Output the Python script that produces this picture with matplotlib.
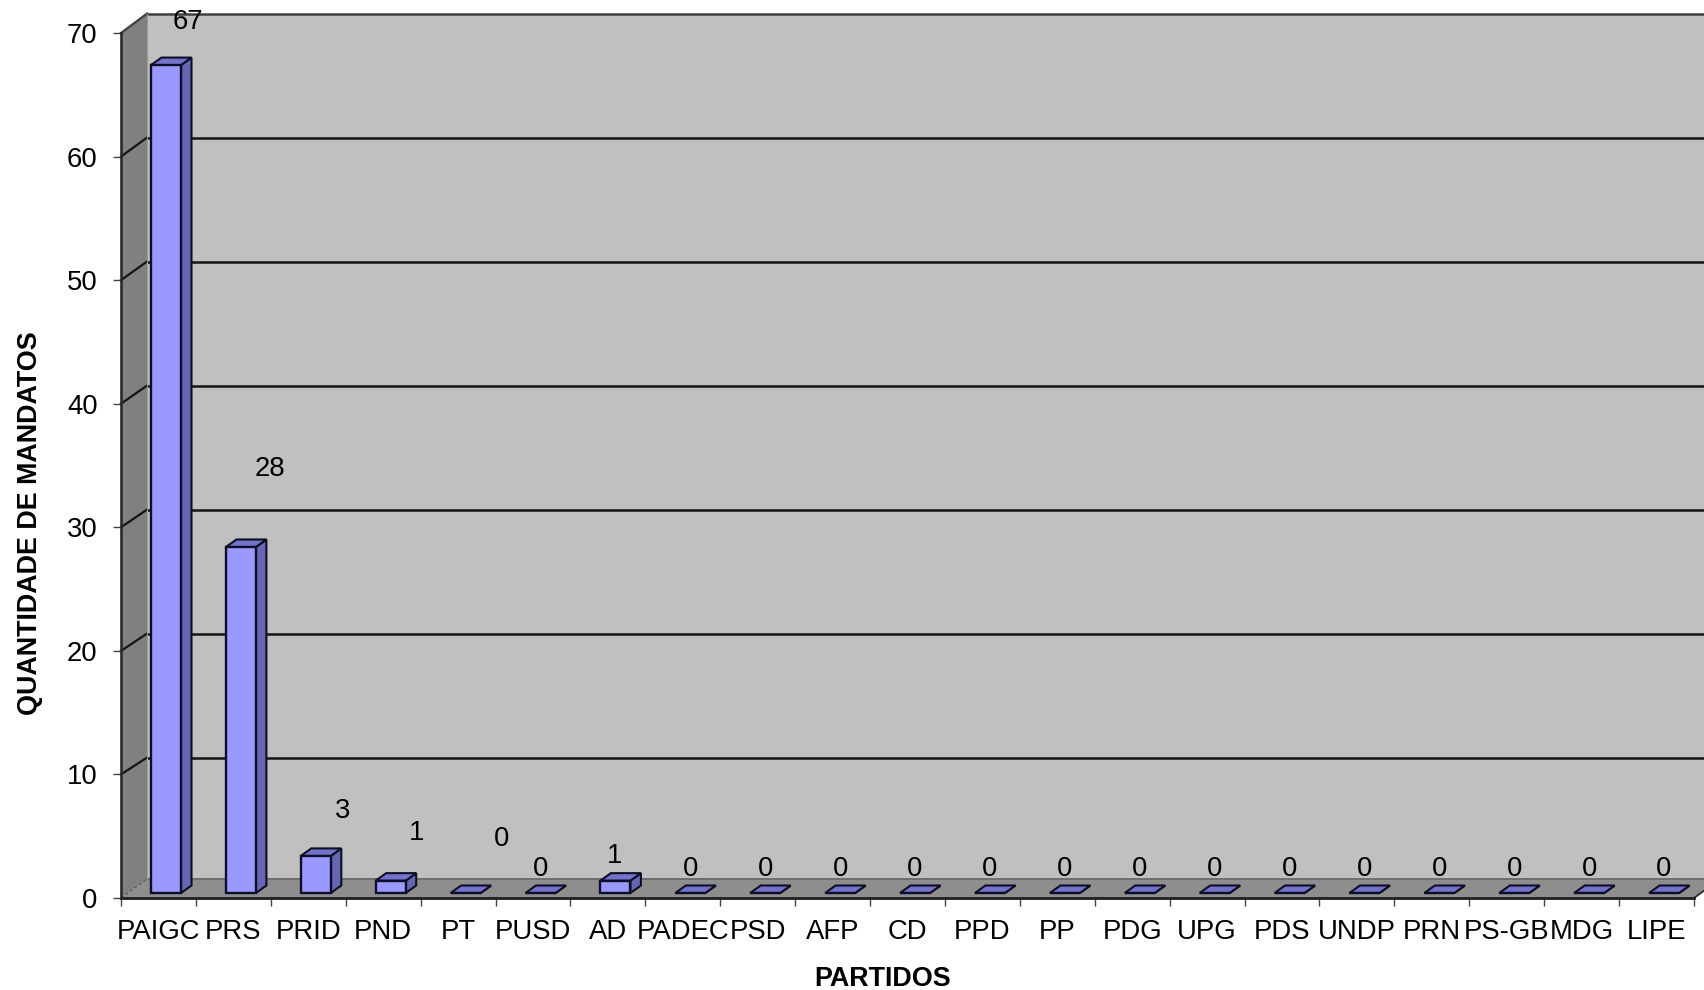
import matplotlib
matplotlib.use("Agg")
import matplotlib.pyplot as plt
from matplotlib.patches import Polygon

plt.rcParams['font.family'] = ['Liberation Sans', 'DejaVu Sans']

partidos = ["PAIGC", "PRS", "PRID", "PND", "PT", "PUSD", "AD", "PADEC", "PSD", "AFP", "CD",
            "PPD", "PP", "PDG", "UPG", "PDS", "UNDP", "PRN", "PS-GB", "MDG", "LIPE"]
mandatos = [67, 28, 3, 1, 0, 0, 1, 0, 0, 0, 0, 0, 0, 0, 0, 0, 0, 0, 0, 0, 0]
y_ticks = [0, 10, 20, 30, 40, 50, 60, 70]

# label offsets from the bar's category centre / value, in pixels (the source chart's are uneven)
label_dx = [29, 37, 34, 33, 43, 7.5, 7] + [7.5] * 14
label_dy = [48.5, 83.5, 49.5, 53, 59, 29, 30] + [29] * 14

W, H = 1704, 990
fig = plt.figure(figsize=(W / 100, H / 100), dpi=100, facecolor='white')
ax = fig.add_axes([121 / W, (H - 898) / H, (1694 - 121) / W, 865 / H])
n = len(partidos)
ymax = 70
ax.set_xlim(0, n)
ax.set_ylim(0, ymax)
for s in ax.spines.values():
    s.set_visible(False)
ax.patch.set_visible(False)

# scale: one category = 74.9 px, one unit = 12.357 px
cat_px = 1573 / n
unit_px = 865 / ymax
wall_dx, wall_dy = 26 / cat_px, 16.4 / unit_px   # depth offset of the gridlines' zero
floor_dy = 19 / unit_px                          # depth of the floor itself
back_scale = 124 / 123.57                        # back wall is drawn marginally taller
bar_w = 30 / cat_px
bar_gap = 30 / cat_px
bar_base = 5 / unit_px
bar_dx, bar_dy = 10.5 / cat_px, 7.5 / unit_px


def back_y(v):
    return wall_dy + v * back_scale


# walls and floor
ax.add_patch(Polygon([(wall_dx, floor_dy), (n + wall_dx, floor_dy), (n + wall_dx, back_y(ymax)), (wall_dx, back_y(ymax))],
                     fc='#C0C0C0', ec='none', clip_on=False, zorder=1))
ax.add_patch(Polygon([(0, 0), (wall_dx, floor_dy), (wall_dx, back_y(ymax)), (0, ymax)],
                     fc='#808080', ec='none', clip_on=False, zorder=1))
ax.add_patch(Polygon([(0, 0), (n, 0), (n + wall_dx, floor_dy), (wall_dx, floor_dy)],
                     fc='#8E8E8E', ec='none', clip_on=False, zorder=1))

# gridlines
for t in y_ticks:
    if t == 0:
        continue
    c = '#141414' if t < ymax else '#404040'
    ax.plot([wall_dx, n + wall_dx], [back_y(t)] * 2, color=c, lw=1.8, clip_on=False, zorder=2, solid_capstyle='butt')
    ax.plot([0, wall_dx], [t, back_y(t)], color=c, lw=1.6, clip_on=False, zorder=2)
ax.plot([wall_dx, n + wall_dx], [floor_dy] * 2, color='#6E6E6E', lw=1.4, clip_on=False, zorder=2)
ax.plot([0, wall_dx], [0, floor_dy], color='#555555', lw=0.8, ls=(0, (3, 2)), clip_on=False, zorder=2)
ax.plot([wall_dx, wall_dx], [floor_dy, back_y(ymax)], color='#9A9A9A', lw=0.8, clip_on=False, zorder=2)
ax.plot([n, n + wall_dx], [0, floor_dy], color='#333333', lw=1.4, clip_on=False, zorder=2)
# front edges
ax.plot([0, n], [0, 0], color='#1E1E1E', lw=2.0, clip_on=False, zorder=3)
ax.plot([0, 0], [0, ymax], color='#2A2A2A', lw=1.9, clip_on=False, zorder=3)

# bars
lefts = [i + bar_gap for i in range(n)]
ax.bar(lefts, mandatos, width=bar_w, bottom=bar_base, align='edge',
       color='#9999FF', edgecolor='#0E0E26', linewidth=1.7, clip_on=False, zorder=5)
for x, v in zip(lefts, mandatos):
    top = bar_base + v
    r = x + bar_w
    ax.add_patch(Polygon([(r, bar_base), (r + bar_dx, bar_base + bar_dy), (r + bar_dx, top + bar_dy), (r, top)],
                         fc='#6666B3', ec='#0E0E26', lw=1.5, clip_on=False, zorder=4))
    ax.add_patch(Polygon([(x, top), (r, top), (r + bar_dx, top + bar_dy), (x + bar_dx, top + bar_dy)],
                         fc='#7373CC', ec='#0E0E26', lw=1.5, clip_on=False, zorder=4))

# value labels
for i, v in enumerate(mandatos):
    ax.annotate(str(v), xy=(i + 0.5, v), xytext=(label_dx[i], label_dy[i]), textcoords='offset pixels',
                ha='center', va='center', fontsize=19.8, color='black', zorder=6, annotation_clip=False)

# axes ticks
ax.set_xticks(range(n + 1))
ax.set_xticklabels([])
ax.set_xticks([i + 0.5 for i in range(n)], labels=partidos, minor=True)
ax.tick_params(axis='x', which='major', length=5.8, width=1.0, color='#444444')
ax.tick_params(axis='x', which='minor', length=0, pad=14.8, labelsize=19.8)
ax.set_yticks(y_ticks)
ax.tick_params(axis='y', length=5.8, width=1.0, color='#444444', pad=11, labelsize=19.8)

fig.text(883 / W, 1 - 979 / H, "PARTIDOS", ha='center', va='center', fontsize=19.35, fontweight='bold')
fig.text(30 / W, 1 - 523.5 / H, "QUANTIDADE DE MANDATOS", ha='center', va='center', rotation=90,
         fontsize=19.35, fontweight='bold')

fig.savefig('out.png', dpi=100, facecolor='white')
